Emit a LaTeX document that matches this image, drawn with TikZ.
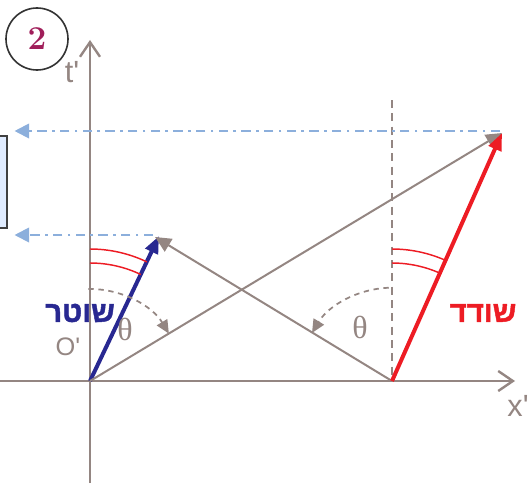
\documentclass[tikz,border=0pt]{standalone}
\usepackage{fontspec}
\usepackage{tikz}
\usetikzlibrary{arrows.meta, positioning, calc}
\TeXXeTstate=1
\newfontfamily\hebfont[Script=Hebrew, BoldFeatures={FakeBold=1.5}]{Liberation Sans}
\newfontfamily\labfont{Liberation Sans}
\newfontfamily\grkfont{Liberation Serif}
\definecolor{AxisGray}{RGB}{148,134,130}
\definecolor{CopNavy}{RGB}{40,40,145}
\definecolor{RobberRed}{RGB}{237,28,36}
\definecolor{GuideBlue}{RGB}{140,175,220}
\definecolor{BoxFill}{RGB}{224,236,255}
\definecolor{BadgeRed}{RGB}{160,30,90}

\begin{document}
\begin{tikzpicture}[
    x=0.75pt, y=0.75pt,
    every node/.style={inner sep=0pt},
    axis/.style={draw=AxisGray, line width=1.8pt, -{Straight Barb[length=11pt, width=15pt]}},
    ray/.style={draw=AxisGray, line width=1.5pt, -{Triangle[length=12pt, width=11pt]}},
    worldline/.style={line width=3pt, -{Triangle[length=13pt, width=10pt]}},
    guide/.style={draw=GuideBlue, line width=1.5pt, dash pattern=on 7pt off 4pt on 2pt off 4pt,
      -{Triangle[length=11pt, width=11pt]}},
    tilt/.style={draw=AxisGray, line width=1.3pt, dash pattern=on 4pt off 3.5pt, -{Triangle[length=10pt, width=9pt]}},
    anglemark/.style={draw=RobberRed, line width=1.1pt},
    axlabel/.style={text=AxisGray, font=\labfont\fontsize{23}{25}\selectfont},
    thetalabel/.style={text=AxisGray, font=\grkfont\fontsize{24}{26}\selectfont},
    heb/.style={font=\hebfont\bfseries\fontsize{22}{24}\selectfont}
  ]
    \useasboundingbox (0,0) rectangle (530,483);

    % Points
    \coordinate (O) at (90,102);
    \coordinate (R) at (392,102);
    \coordinate (copTip) at (159,247);
    \coordinate (robTip) at (502,350);
    \coordinate (meet) at (155,246);
    \coordinate (tTop) at (90,443);
    \coordinate (tBot) at (90,0);
    \coordinate (xLeft) at (0,102);
    \coordinate (xRight) at (515,102);
    \coordinate (vTop) at (392,383);
    \coordinate (g1) at (500,352);
    \coordinate (g2) at (153,248);

    % Badge and side box
    \node[circle, draw=black!80, line width=1.2pt, minimum size=46.5pt, text=BadgeRed,
      font=\bfseries\fontsize{25}{27}\selectfont] (badge) at (37,444) {2};
    \node[draw=black!75, line width=1.3pt, fill=BoxFill, minimum width=15pt, minimum height=69pt] (infobox) at (-3,301) {};

    % Axes
    \draw[axis] (tBot) -- (tTop);
    \draw[axis] (xLeft) -- (xRight);
    \node[axlabel] (tlabel) at (72,411) {t'};
    \node[axlabel] (xlabel) at (518,77) {x'};
    \node[axlabel, font=\labfont\fontsize{19}{21}\selectfont] (olabel) at (68,136) {O'};

    % Guide lines
    \draw[draw=AxisGray, line width=1.3pt, dash pattern=on 6pt off 4pt] (vTop) -- (R);
    \draw[guide, shorten >=5pt] (g1) -- (infobox.east |- g1);
    \draw[guide, shorten >=5pt] (g2) -- (infobox.east |- g2);

    % World lines and light rays
    \draw[worldline, draw=CopNavy, fill=CopNavy] (O) -- (copTip);
    \draw[ray, fill=AxisGray] (R) -- (meet);
    \draw[ray, fill=AxisGray] (O) -- (robTip);
    \draw[worldline, draw=RobberRed, fill=RobberRed] (R) -- (robTip);

    % Angles
    \draw[anglemark] (O) ++(90:99pt) arc[start angle=90, end angle=64.5, radius=99pt];
    \draw[anglemark] (O) ++(90:88.5pt) arc[start angle=90, end angle=64.5, radius=88.5pt];
    \draw[anglemark] (R) ++(90:99pt) arc[start angle=90, end angle=66, radius=99pt];
    \draw[anglemark] (R) ++(90:88.5pt) arc[start angle=90, end angle=66, radius=88.5pt];
    \draw[tilt] (O) ++(91:69pt) arc[start angle=91, end angle=31, radius=69pt];
    \draw[tilt] (R) ++(92:70pt) arc[start angle=92, end angle=149, radius=70pt];
    \node[thetalabel] (thetaL) at (125,154) {θ};
    \node[thetalabel] (thetaR) at (360,156) {θ};

    % Names
    \node[heb, text=CopNavy] (cop) at (80,170) {\beginR שוטר\endR};
    \node[heb, text=RobberRed] (robber) at (483,170) {\beginR שודד\endR};
\end{tikzpicture}
\end{document}
